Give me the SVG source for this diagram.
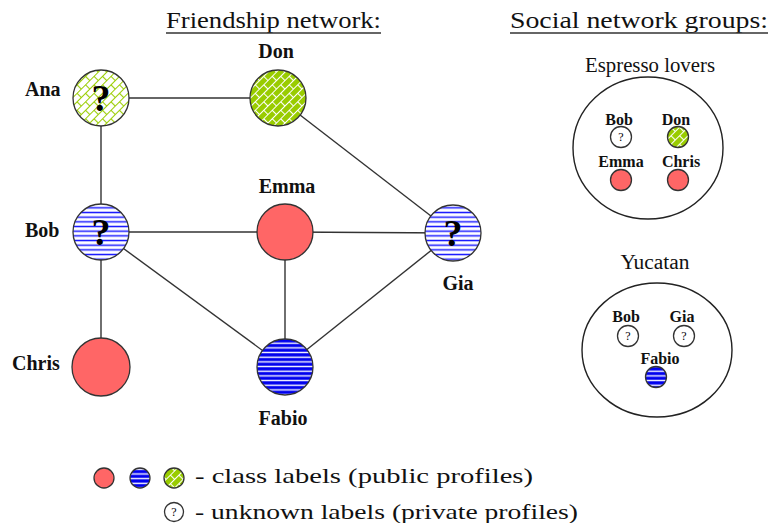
<svg xmlns="http://www.w3.org/2000/svg" width="773" height="523" viewBox="0 0 773 523">
<style>
.title{font-family:"Liberation Serif","Times New Roman",Times,"DejaVu Serif",serif;font-size:24px;fill:#111}
.lbl{font-family:"Liberation Serif","Times New Roman",Times,"DejaVu Serif",serif;font-weight:bold;font-size:20px;fill:#111}
.slbl{font-family:"Liberation Serif","Times New Roman",Times,"DejaVu Serif",serif;font-weight:bold;font-size:16px;fill:#111}
.grp{font-family:"Liberation Serif","Times New Roman",Times,"DejaVu Serif",serif;font-size:20px;fill:#111}
.leg{font-family:"Liberation Serif","Times New Roman",Times,"DejaVu Serif",serif;font-size:22px;fill:#111}
.q{font-family:"Liberation Serif","Times New Roman",Times,"DejaVu Serif",serif;font-weight:bold;font-size:38px;fill:#000}
.sq{font-family:"Liberation Serif","Times New Roman",Times,"DejaVu Serif",serif;font-size:12px;fill:#000}
.node{stroke:#333;stroke-width:1.3}
.edge{stroke:#333;stroke-width:1.4;fill:none}
.ul{stroke:#333;stroke-width:1.4}
.grpc{fill:none;stroke:#222;stroke-width:1.4}
.red{fill:#ff6666}
</style>
<defs>
<pattern id="stripeW" width="8" height="4.67" patternUnits="userSpaceOnUse">
<rect width="8" height="4.67" fill="#ffffff"/>
<rect y="1.6" width="8" height="1.5" fill="#1a1aff"/>
</pattern>
<pattern id="stripeB" width="8" height="4.67" patternUnits="userSpaceOnUse">
<rect width="8" height="4.67" fill="#0000ee"/>
<rect y="1.6" width="8" height="1.4" fill="#ffffff"/>
</pattern>
<pattern id="brickG" width="12" height="12" patternUnits="userSpaceOnUse" patternTransform="rotate(-45)">
<rect width="12" height="12" fill="#99cc00"/>
<path d="M0 0.5H12M0 6.5H12M0.5 0.5V6.5M6.5 6.5V12.5" stroke="#ffffff" stroke-width="1.1" fill="none"/>
</pattern>
<pattern id="brickW" width="12" height="12" patternUnits="userSpaceOnUse" patternTransform="rotate(-45)">
<rect width="12" height="12" fill="#ffffff"/>
<path d="M0 0.5H12M0 6.5H12M0.5 0.5V6.5M6.5 6.5V12.5" stroke="#99cc00" stroke-width="1.1" fill="none"/>
</pattern>
</defs>

<text class="title" x="166" y="28" textLength="215" lengthAdjust="spacingAndGlyphs">Friendship network:</text>
<line class="ul" x1="166" y1="33" x2="381" y2="33"/>
<text class="title" x="510" y="28" textLength="258" lengthAdjust="spacingAndGlyphs">Social network groups:</text>
<line class="ul" x1="510" y1="33" x2="768" y2="33"/>

<g id="connectors">
<line class="edge" x1="101" y1="98" x2="278" y2="98"/>
<line class="edge" x1="101" y1="98" x2="101" y2="232"/>
<line class="edge" x1="278" y1="98" x2="453" y2="233"/>
<line class="edge" x1="101" y1="232" x2="285" y2="232"/>
<line class="edge" x1="285" y1="232" x2="453" y2="233"/>
<line class="edge" x1="101" y1="232" x2="101" y2="367"/>
<line class="edge" x1="101" y1="232" x2="285" y2="367"/>
<line class="edge" x1="285" y1="232" x2="285" y2="367"/>
<line class="edge" x1="285" y1="367" x2="453" y2="233"/>
</g>

<g id="ana">
<circle class="node" cx="101" cy="98" r="28" fill="url(#brickW)"/>
<text class="q" x="101" y="111" text-anchor="middle">?</text>
<text class="lbl" x="25" y="96">Ana</text>
</g>
<g id="don">
<circle class="node" cx="278" cy="98" r="28" fill="url(#brickG)"/>
<text class="lbl" x="276" y="58" text-anchor="middle">Don</text>
</g>
<g id="bob">
<circle class="node" cx="101" cy="232" r="28" fill="url(#stripeW)"/>
<text class="q" x="101" y="245" text-anchor="middle">?</text>
<text class="lbl" x="25" y="237">Bob</text>
</g>
<g id="emma">
<circle class="node red" cx="285" cy="232" r="28"/>
<text class="lbl" x="287" y="193" text-anchor="middle">Emma</text>
</g>
<g id="gia">
<circle class="node" cx="453" cy="233" r="28" fill="url(#stripeW)"/>
<text class="q" x="453" y="246" text-anchor="middle">?</text>
<text class="lbl" x="458" y="290" text-anchor="middle">Gia</text>
</g>
<g id="chris">
<circle class="node red" cx="101" cy="367" r="29"/>
<text class="lbl" x="12" y="370">Chris</text>
</g>
<g id="fabio">
<circle class="node" cx="285" cy="367" r="28" fill="url(#stripeB)"/>
<text class="lbl" x="283" y="425" text-anchor="middle">Fabio</text>
</g>

<g id="espresso">
<text class="grp" x="650" y="72" text-anchor="middle" textLength="130" lengthAdjust="spacingAndGlyphs">Espresso lovers</text>
<ellipse class="grpc" cx="648" cy="148" rx="75" ry="71"/>
<text class="slbl" x="619" y="125" text-anchor="middle">Bob</text>
<circle class="node" cx="621" cy="137" r="10.5" fill="#fff"/>
<text class="sq" x="621" y="141" text-anchor="middle">?</text>
<text class="slbl" x="676" y="125" text-anchor="middle">Don</text>
<circle class="node" cx="678" cy="137" r="10.5" fill="url(#brickG)"/>
<text class="slbl" x="621" y="167" text-anchor="middle">Emma</text>
<circle class="node red" cx="621" cy="180" r="10.5"/>
<text class="slbl" x="681" y="167" text-anchor="middle">Chris</text>
<circle class="node red" cx="678" cy="180" r="10.5"/>
</g>

<g id="yucatan">
<text class="grp" x="655" y="269" text-anchor="middle" textLength="69" lengthAdjust="spacingAndGlyphs">Yucatan</text>
<ellipse class="grpc" cx="657" cy="350" rx="75" ry="67"/>
<text class="slbl" x="626" y="322" text-anchor="middle">Bob</text>
<circle class="node" cx="628" cy="336" r="10.5" fill="#fff"/>
<text class="sq" x="628" y="340" text-anchor="middle">?</text>
<text class="slbl" x="682" y="322" text-anchor="middle">Gia</text>
<circle class="node" cx="684" cy="336" r="10.5" fill="#fff"/>
<text class="sq" x="684" y="340" text-anchor="middle">?</text>
<text class="slbl" x="660" y="364" text-anchor="middle">Fabio</text>
<circle class="node" cx="656" cy="377" r="10.5" fill="url(#stripeB)"/>
</g>

<g id="legend">
<circle class="node red" cx="104" cy="478" r="10"/>
<circle class="node" cx="140" cy="478" r="10" fill="url(#stripeB)"/>
<circle class="node" cx="174" cy="478" r="10" fill="url(#brickG)"/>
<text class="leg" x="195" y="483" textLength="338" lengthAdjust="spacingAndGlyphs">- class labels (public profiles)</text>
<circle class="node" cx="174" cy="512" r="9.5" fill="#fff"/>
<text class="sq" x="174" y="516" text-anchor="middle">?</text>
<text class="leg" x="195" y="519" textLength="383" lengthAdjust="spacingAndGlyphs">- unknown labels (private profiles)</text>
</g>
</svg>
